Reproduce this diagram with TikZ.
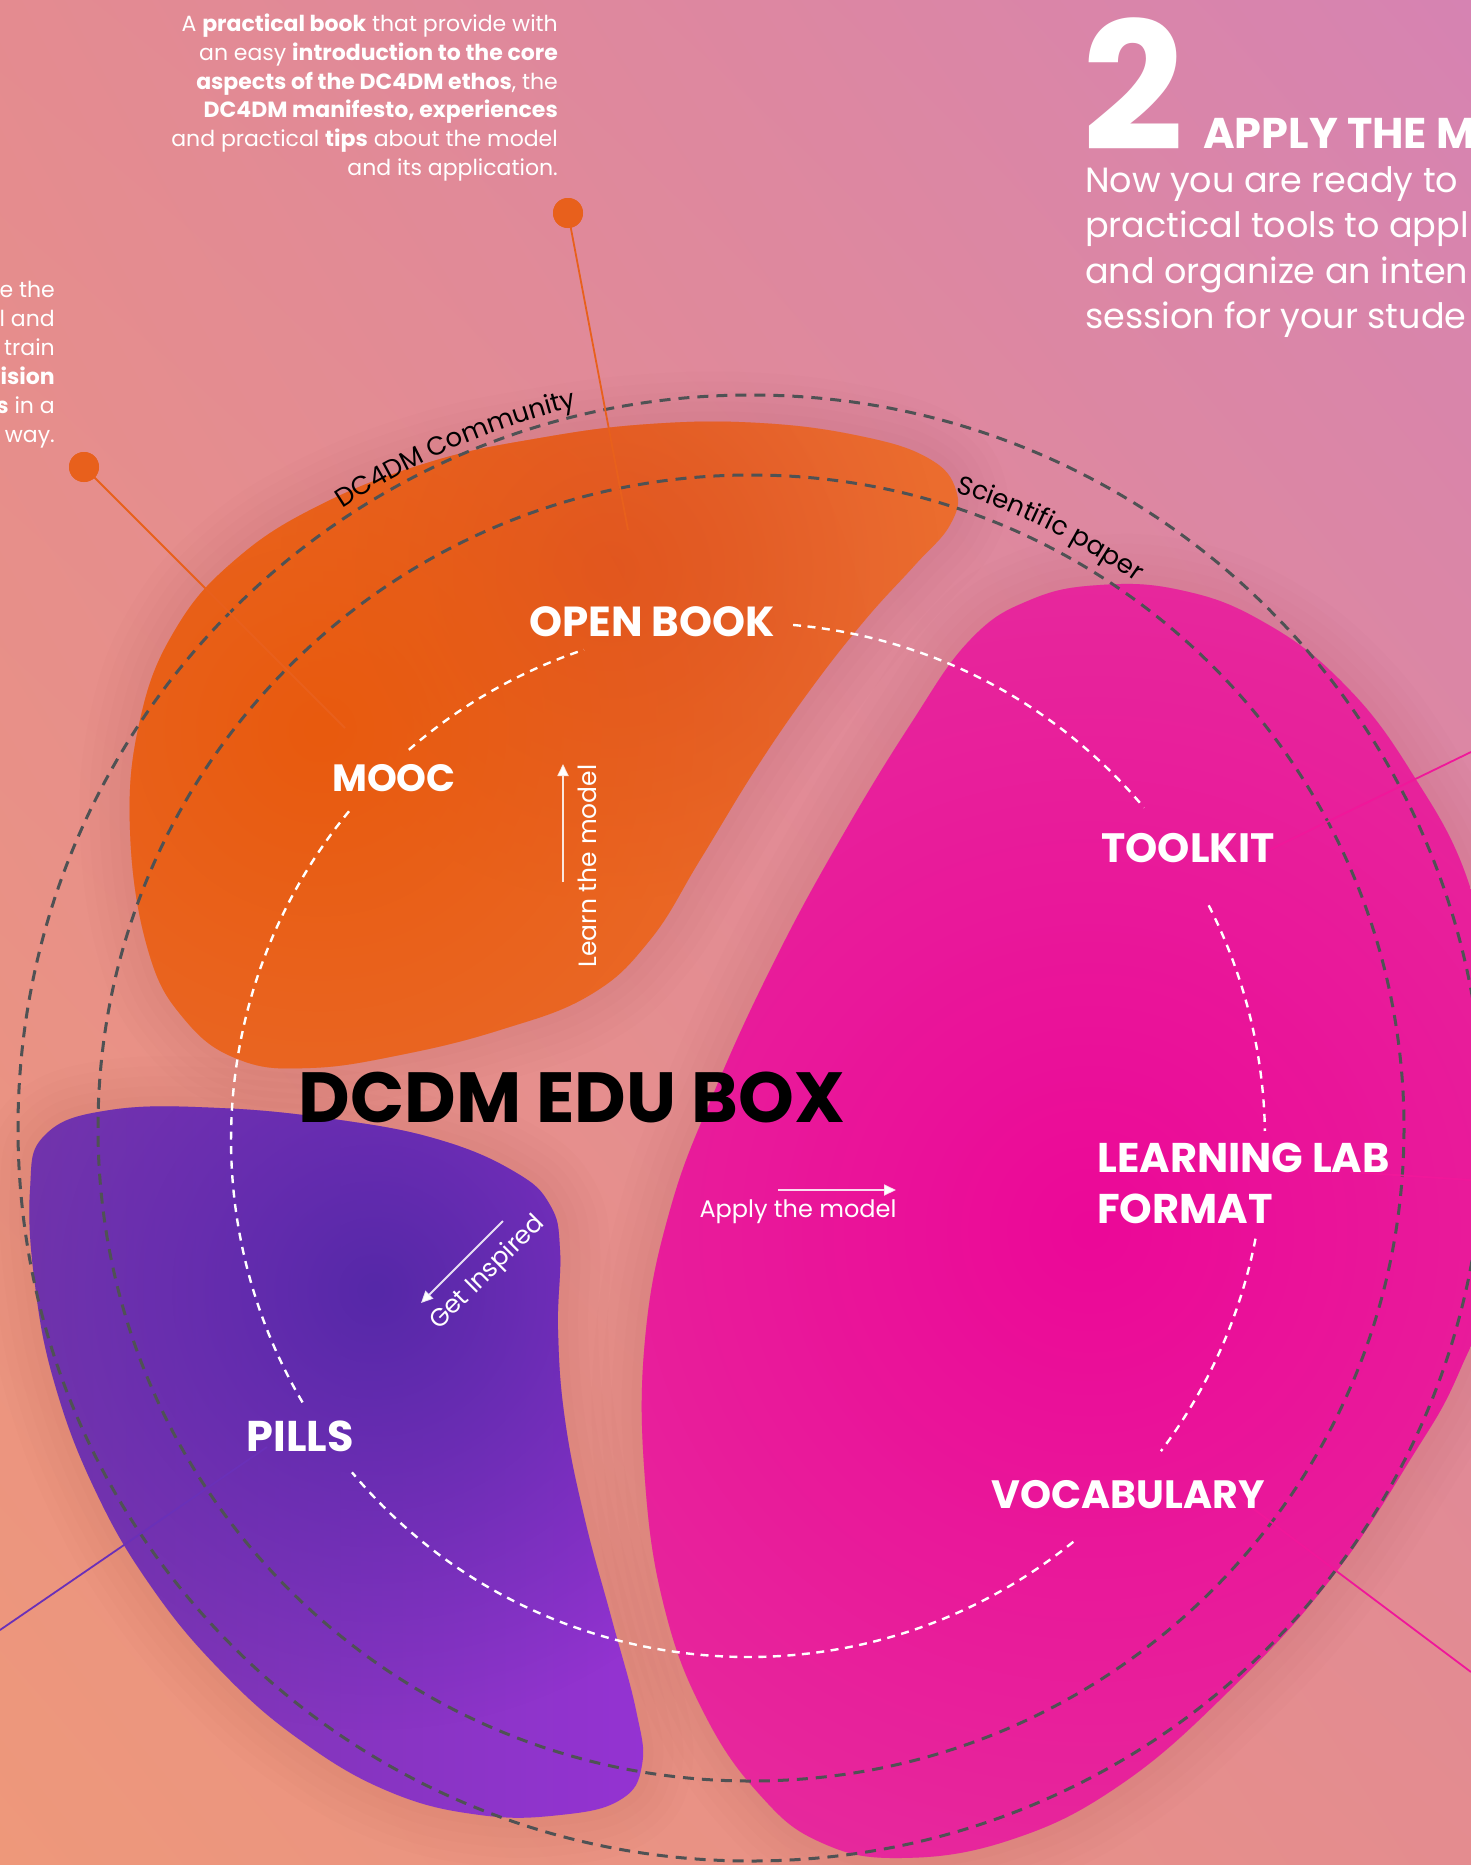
\documentclass[tikz,border=0pt]{standalone}
\usepackage{fontspec}
\setmainfont{Poppins}
\usepackage{graphicx}
\usetikzlibrary{arrows.meta,decorations.text,shadings,fadings}
\definecolor{bgTL}{HTML}{E48B90}
\definecolor{bgTR}{HTML}{D683B2}
\definecolor{bgBL}{HTML}{EE987A}
\definecolor{bgBR}{HTML}{E48C8F}
\definecolor{oraBase}{HTML}{EB6C2E}
\definecolor{oraDeep}{HTML}{E85A0E}
\definecolor{oraRed}{HTML}{DE552A}
\definecolor{purLeft}{HTML}{7636AC}
\definecolor{purRight}{HTML}{9533D3}
\definecolor{purDeep}{HTML}{5628A8}
\definecolor{magBase}{HTML}{E5349E}
\definecolor{magDeep}{HTML}{EC0898}
\definecolor{dashgray}{HTML}{4F5254}
\definecolor{leadOra}{HTML}{E8601C}
\definecolor{leadPink}{HTML}{F0179A}
\definecolor{leadPur}{HTML}{6A30B8}
\definecolor{shadowcol}{HTML}{A8404A}
\tikzfading[name=softspot, inner color=transparent!0, outer color=transparent!100]
\newcommand\orangeblob[1]{\path[#1] plot[smooth cycle,tension=0.7] coordinates {(130,830) (140,720) (175,630) (235,560) (320,505) (430,462) (540,438) (650,424) (760,423) (860,436) (928,458) (956,490) (950,525) (915,565) (865,620) (810,690) (755,770) (700,860) (650,940) (590,995) (500,1030) (400,1055) (310,1068) (240,1060) (185,1020) (148,950)};}
\newcommand\purpleblob[1]{\path[#1] plot[smooth cycle,tension=0.7] coordinates {(30,1190) (45,1135) (110,1110) (220,1108) (340,1120) (440,1140) (515,1172) (550,1205) (560,1250) (558,1330) (565,1420) (585,1520) (612,1620) (636,1710) (642,1765) (620,1800) (560,1815) (480,1815) (390,1792) (300,1740) (220,1670) (150,1585) (95,1490) (55,1385) (35,1285)};}
\newcommand\magentablob[1]{\path[#1] plot[smooth cycle,tension=0.7] coordinates {(1030,600) (1100,585) (1180,590) (1260,620) (1340,680) (1410,770) (1471,890) (1500,1050) (1500,1250) (1460,1370) (1410,1460) (1330,1580) (1230,1690) (1120,1785) (1010,1840) (900,1858) (820,1842) (760,1795) (705,1715) (665,1610) (645,1480) (645,1340) (670,1210) (715,1090) (775,960) (840,840) (910,725) (970,640)};}
\begin{document}
\begin{tikzpicture}[x=1pt,y=-1pt,
  gdash/.style={draw=dashgray, line width=3pt, dash pattern=on 11pt off 8pt},
  wdash/.style={draw=white, line width=2.4pt, dash pattern=on 8pt off 6.5pt},
  biglabel/.style={text=white, inner sep=0pt, font=\bfseries\fontsize{#1}{#1}\selectfont},
  smalllabel/.style={text=white, inner sep=0pt, font=\fontsize{25}{25}\selectfont},
  leader/.style={line width=1.8pt},
  dotnode/.style={circle, fill=leadOra, minimum size=30pt, inner sep=0pt},
  flow/.style={draw=white, line width=1.8pt, draw opacity=0.85, -{Triangle[length=12pt,width=11pt]}}
]
\useasboundingbox (0,0) rectangle (1471,1865);
\clip (0,0) rectangle (1471,1865);
% background
\shade[upper left=bgTL, upper right=bgTR, lower left=bgBL, lower right=bgBR] (0,0) rectangle (1471,1865);

% soft halos
\foreach \w in {100,80,60,40,20}{
  \orangeblob{draw=shadowcol, line width=\w pt, opacity=0.022}
  \purpleblob{draw=shadowcol, line width=\w pt, opacity=0.022}
  \magentablob{draw=shadowcol, line width=\w pt, opacity=0.018}
}

% orange blob
\begin{scope}
  \orangeblob{clip}
  \fill[oraBase] (0,0) rectangle (1471,1865);
  \fill[oraRed, path fading=softspot] (610,570) circle[radius=330];
  \fill[oraDeep, path fading=softspot] (320,730) circle[radius=560];
\end{scope}
% magenta blob
\begin{scope}
  \magentablob{clip}
  \fill[magBase] (0,0) rectangle (1471,1865);
  \fill[magDeep, path fading=softspot] (1090,1230) circle[radius=900];
\end{scope}
% purple blob
\begin{scope}
  \purpleblob{clip}
  \shade[left color=purLeft, right color=purRight] (20,1100) rectangle (660,1830);
  \fill[purDeep, path fading=softspot] (375,1290) circle[radius=440];
\end{scope}

% gray dashed circles
\draw[gdash] (751,1128) circle[radius=733];
\draw[gdash] (751,1128) circle[radius=653];

% white dashed inner circle (with gaps for labels)
\foreach \a/\b in {-131/-108.5, -85/-40, -27/-1, 11/37, 51/140, 149.5/219.5}{
  \draw[wdash] ([shift={(748,1140)}]\a:517) arc[start angle=\a, end angle=\b, radius=517];
}

% curved texts
\path[decorate, decoration={text along path, text align=center,
  text={|\fontsize{26}{26}\selectfont|DC4DM Community}}]
  ([shift={(751,1128)}]-145:742) arc[start angle=-145, end angle=-82, radius=742];
\path[decorate, decoration={text along path, text align=center,
  text={|\fontsize{26}{26}\selectfont|Scientific paper}}]
  ([shift={(751,1128)}]-95:668) arc[start angle=-95, end angle=-32, radius=668];

% dots and leader lines
\node[dotnode] (bookdot) at (568,213) {};
\node[dotnode] (moocdot) at (84,467) {};
\coordinate (bookend) at (628,530);
\coordinate (moocend) at (345,728);
\draw[leader, leadOra] (bookdot.center) -- (bookend);
\draw[leader, leadOra] (moocdot.center) -- (moocend);
\node[dotnode] at (bookdot) {};
\node[dotnode] at (moocdot) {};

\coordinate (toolkitend) at (1263,853);
\coordinate (toolkitout) at (1471,752);
\coordinate (labend) at (1350,1172);
\coordinate (labout) at (1471,1180);
\coordinate (vocabend) at (1235,1495);
\coordinate (vocabout) at (1471,1672);
\coordinate (pillsend) at (267,1447);
\coordinate (pillsout) at (0,1630);
\draw[leader, leadPink] (toolkitend) -- (toolkitout);
\draw[leader, leadPink] (labend) -- (labout);
\draw[leader, leadPink] (vocabend) -- (vocabout);
\draw[leader, leadPur] (pillsend) -- (pillsout);

% labels
\node[biglabel=42] (openbook) at (652,622) {OPEN BOOK};
\node[biglabel=38] (mooc) at (394,778) {MOOC};
\node[biglabel=41] (toolkit) at (1188,848) {TOOLKIT};
\node[biglabel=41.5, anchor=west] (learninglab) at (1097,1158) {LEARNING LAB};
\node[biglabel=41.5, anchor=west] (format) at (1097,1209) {FORMAT};
\node[biglabel=39.5] (vocab) at (1128,1495) {VOCABULARY};
\node[biglabel=43] (pills) at (300,1436) {PILLS};
\node[inner sep=0pt, text=black, font=\bfseries\fontsize{71}{71}\selectfont] (title) at (572,1097) {DCDM EDU BOX};

% flow labels and arrows
\node[smalllabel, rotate=90] (learn) at (587,866) {Learn the model};
\coordinate (learnA) at (563,882);
\coordinate (learnB) at (563,764);
\draw[flow] (learnA) -- (learnB);
\node[smalllabel, rotate=45] (inspired) at (488,1273) {Get Inspired};
\coordinate (inspA) at (503,1221);
\coordinate (inspB) at (421,1303);
\draw[flow] (inspA) -- (inspB);
\node[smalllabel, font=\fontsize{24}{24}\selectfont] (apply) at (798,1212) {Apply the model};
\coordinate (applyA) at (778,1190);
\coordinate (applyB) at (896,1190);
\draw[flow] (applyA) -- (applyB);

% top paragraph
\node[anchor=north east, align=right, inner sep=0pt, text=white, font=\fontsize{22}{28.7}\selectfont] (booktext) at (558,14)
  {A \textbf{practical book} that provide with\\
   an easy \textbf{introduction to the core}\\
   \textbf{aspects of the DC4DM ethos}, the\\
   \textbf{DC4DM manifesto, experiences}\\
   and practical \textbf{tips} about the model\\
   and its application.};
% left cut paragraph
\node[anchor=north east, align=right, inner sep=0pt, text=white, font=\fontsize{22}{29}\selectfont] (mooctext) at (55,281)
  {e the\\ l and\\ train\\ \textbf{vision}\\ \textbf{s} in a\\ way.};

% top right heading
\node[anchor=base west, inner sep=0pt, text=white, font=\bfseries\fontsize{178}{178}\selectfont] (two) at (1082,150) {2};
\node[anchor=base west, inner sep=0pt, text=white, font=\bfseries\fontsize{43}{43}\selectfont] (applyhead) at (1203,148) {APPLY THE M};
\node[anchor=north west, align=left, inner sep=0pt, text=white, font=\fontsize{35}{45.5}\selectfont] (applytext) at (1085,166)
  {Now you are ready to\\ practical tools to appl\\ and organize an inten\\ session for your stude};
\end{tikzpicture}
\end{document}
